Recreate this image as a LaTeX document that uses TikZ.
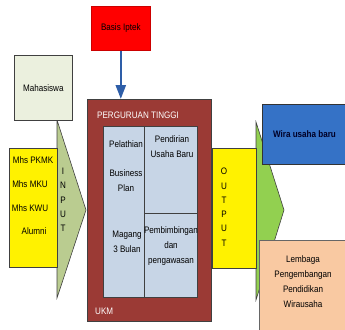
\documentclass[tikz,border=0pt]{standalone}
\usepackage{fontspec}
\setmainfont[FakeStretch=0.86]{Liberation Sans}
\usetikzlibrary{arrows.meta}
\definecolor{ptred}{HTML}{9B3A35}
\definecolor{innerblue}{HTML}{C7D5E6}
\definecolor{mahafill}{HTML}{EBF0DE}
\definecolor{olive}{HTML}{BACC90}
\definecolor{lgreen}{HTML}{92D050}
\definecolor{wirablue}{HTML}{3572C6}
\definecolor{peach}{HTML}{F9C9A2}
\definecolor{arrowblue}{HTML}{2E5EA8}
\tikzset{
  box/.style={draw=black!75, line width=0.6pt, inner sep=0pt, anchor=north west},
  txt/.style={font=\fontsize{9.4}{15}\selectfont, align=center, inner sep=0pt},
  vtxt/.style={font=\fontsize{9.4}{14.3}\selectfont, align=center, inner sep=0pt, anchor=north},
}
\begin{document}
\begin{tikzpicture}[x=1pt,y=-1pt]
\useasboundingbox (0,0) rectangle (345,329);
\clip (0,0) rectangle (345,329);
% input triangle
\fill[olive, draw=black!75, line width=0.6pt] (57,120) coordinate (ta) -- (86,210) coordinate (tip) -- (57,298) coordinate (tb) -- cycle;
% output arrow
\fill[lgreen, draw=black!75, line width=0.6pt] (256,122) coordinate (oa) -- (284,210) coordinate (otip) -- (256,300) coordinate (ob) -- cycle;
% boxes
\node[box, fill=red, draw=red!80!black, minimum width=59pt, minimum height=44pt] (basis) at (91,6) {};
\node[txt] at (basis.center) {Basis Iptek};
\node[box, fill=mahafill, minimum width=58pt, minimum height=65pt] (maha) at (14,55) {};
\node[txt] at (maha.center) {Mahasiswa};
\node[box, fill=yellow, minimum width=48pt, minimum height=119pt] (inbox) at (9,148) {};
\node[txt] (l1) at (33,160) {Mhs PKMK};
\node[txt] (l2) at (30,184) {Mhs MKU};
\node[txt] (l3) at (30,208) {Mhs KWU};
\node[txt] (l4) at (34,231) {Alumni};
\node[vtxt] (input) at (63,168) {I\\N\\P\\U\\T};
% perguruan tinggi
\node[box, fill=ptred, minimum width=124pt, minimum height=222pt] (pt) at (87,99) {};
\node[txt, text=white, anchor=west] (ptlabel) at (97,115) {PERGURUAN TINGGI};
\node[txt, text=white, anchor=west] (ukm) at (95,311) {UKM};
\node[box, fill=innerblue, minimum width=94pt, minimum height=171pt] (inner) at (103,126) {};
\draw[black!75, line width=0.6pt] (144,126) coordinate (dtop) -- (144,297) coordinate (dbot);
\draw[black!75, line width=0.6pt] (144,213) coordinate (hl) -- (197,213) coordinate (hr);
\node[txt] (pel) at (126,144) {Pelathian};
\node[txt] (bp) at (126,180.5) {Business\\Plan};
\node[txt] (mag) at (127,242) {Magang\\3 Bulan};
\node[txt] (pend) at (172,147) {Pendirian\\Usaha Baru};
\node[txt] (pemb) at (171,246) {Pembimbingan\\dan\\pengawasan};
% output
\node[box, fill=yellow, minimum width=44pt, minimum height=120pt] (outbox) at (212,148) {};
\node[vtxt] (output) at (224,168) {O\\U\\T\\P\\U\\T};
% results
\node[box, fill=wirablue, draw=black!80, minimum width=95pt, minimum height=60pt] (wira) at (262,104) {};
\node[txt, font=\fontsize{9.4}{15}\selectfont\bfseries, text=black!85!blue] at (304.5,134) {Wira usaha baru};
\node[box, fill=peach, draw=black!60, minimum width=95pt, minimum height=100pt] (lemb) at (259,240) {};
\node[txt] (lembtxt) at (303,281.5) {Lembaga\\Pengembangan\\Pendidikan\\Wirausaha};
% arrow
\draw[arrowblue, line width=2.5pt, -{Triangle[length=14pt,width=10pt]}] (basis.south) -- (pt.north -| basis.south);
\end{tikzpicture}
\end{document}
